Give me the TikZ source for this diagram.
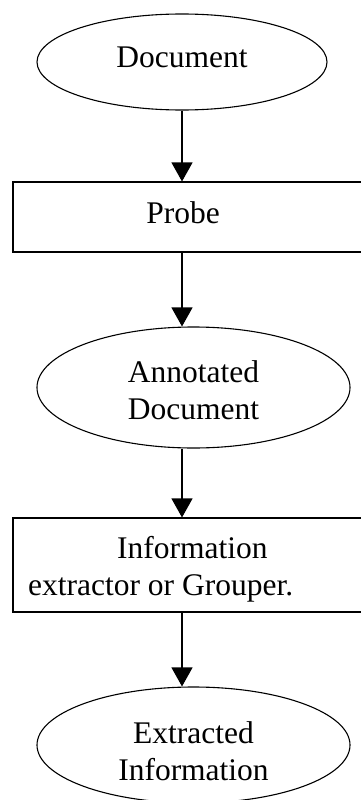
\documentclass[tikz,border=0pt]{standalone}
\usepackage{fontspec}
\setmainfont{Liberation Serif}
\usetikzlibrary{arrows.meta,shapes.geometric}
\begin{document}
\begin{tikzpicture}[x=1pt,y=-1pt,
    every node/.style={font=\fontsize{31.5}{37}\selectfont,inner sep=0pt},
    blob/.style={draw,ellipse,line width=1.1pt},
    box/.style={draw,rectangle,line width=1.1pt,minimum width=407},
    flow/.style={line width=1.1pt,-{Triangle[width=21pt,length=19pt]}}]
    \useasboundingbox (0,0) rectangle (360,800);

    \node[blob,minimum width=290,minimum height=96] (docin) at (182,62) {};
    \node[anchor=base] (docintext) at (182,67) {Document};

    \node[box,minimum height=70] (probe) at (216.5,217) {};
    \node[anchor=base] (probetext) at (183,223) {Probe};

    \node[blob,minimum width=313,minimum height=121] (annot) at (193.5,387.5) {};
    \node[anchor=base,align=center] (annottext) at (193.5,419) {Annotated\\Document};

    \node[box,minimum height=94] (grouper) at (216.5,565) {};
    \node[anchor=base west,align=left] (groupertext) at (28,595) {\hspace*{89pt}Information\\extractor or Grouper.};

    \node[blob,minimum width=313,minimum height=116] (extract) at (193.5,745) {};
    \node[anchor=base,align=center] (extracttext) at (193.5,780) {Extracted\\Information};

    \draw[flow] (docin.south) -- (docin.south |- probe.north);
    \draw[flow] (probe.south -| docin.south) -- (annot.north -| docin.south);
    \draw[flow] (annot.south -| docin.south) -- (grouper.north -| docin.south);
    \draw[flow] (grouper.south -| docin.south) -- (extract.north -| docin.south);
\end{tikzpicture}
\end{document}
